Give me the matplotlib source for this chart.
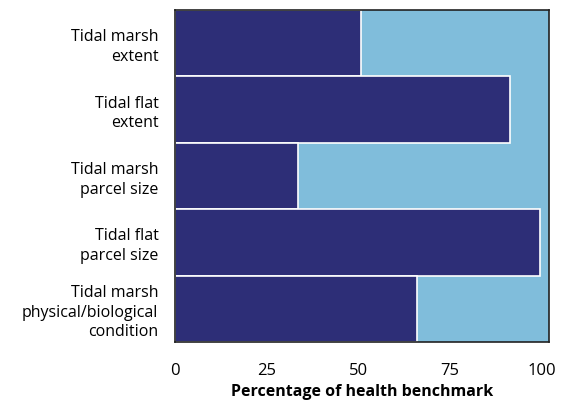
#!/usr/bin/env python3
"""Horizontal bar chart: tidal habitat indicators as percentage of health benchmark."""

import matplotlib
matplotlib.use("Agg")
import matplotlib.pyplot as plt

categories = [
    "Tidal marsh\nextent",
    "Tidal flat\nextent",
    "Tidal marsh\nparcel size",
    "Tidal flat\nparcel size",
    "Tidal marsh\nphysical/biological\ncondition",
]
values = [50.6, 91.4, 33.5, 99.6, 66.1]
ticks = [0, 25, 50, 75, 100]

BAR_COLOR = "#2d2e77"
BG_COLOR = "#80bddb"

plt.rcParams["font.family"] = ["Open Sans", "DejaVu Sans"]

fig = plt.figure(figsize=(5.63, 4.01), dpi=100)
ax = fig.add_axes([0.311, 0.147, 0.664, 0.828])
ax.set_facecolor(BG_COLOR)

y = list(range(len(categories)))
ax.barh(y, values, height=1.0, color=BAR_COLOR, edgecolor="white", linewidth=1.2)

ax.set_ylim(len(categories) - 0.5, -0.5)
ax.set_xlim(0, 102)
ax.set_yticks(y)
ax.set_yticklabels(categories, fontsize=11.5, linespacing=1.3)
ax.set_xticks(ticks)
ax.set_xticklabels([str(t) for t in ticks], fontsize=12)
ax.tick_params(axis="y", length=0, pad=12)
ax.tick_params(axis="x", length=0, pad=15)
ax.set_xlabel("Percentage of health benchmark", fontsize=11.5, fontweight="bold", labelpad=4)

for spine in ax.spines.values():
    spine.set_color("#222222")
    spine.set_linewidth(1.2)

fig.savefig("out.png", dpi=100)
plt.close(fig)
